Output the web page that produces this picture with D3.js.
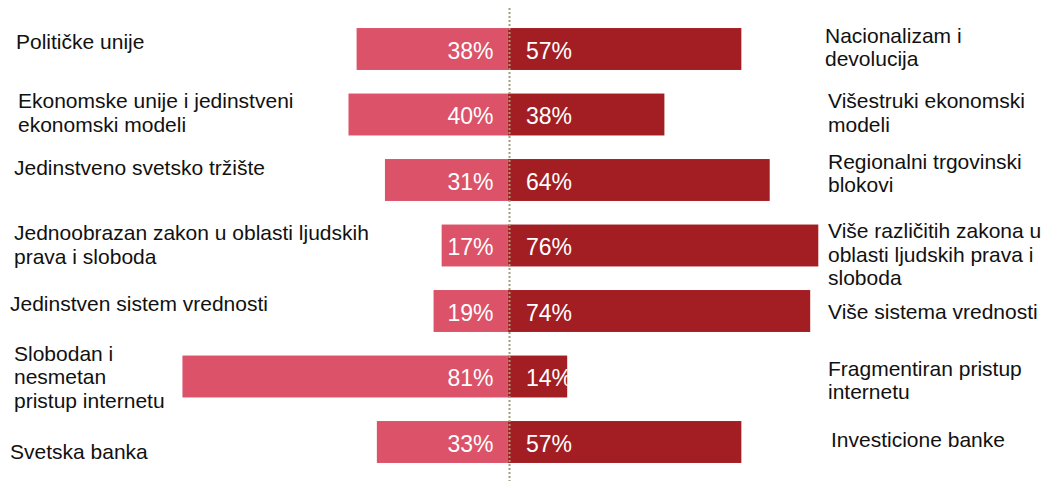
<!DOCTYPE html>
<html>
<head>
<meta charset="utf-8">
<script src="https://cdn.jsdelivr.net/npm/d3@7"></script>
<style>
  html, body { margin: 0; padding: 0; background: #fff; }
  svg { display: block; font-family: "Liberation Sans", Arial, sans-serif; }
</style>
</head>
<body>
<div id="chart"></div>
<script>
const WIDTH = 1046;
const HEIGHT = 481;

// Chart data
const leftLabels = [
  ['Političke unije'],
  ['Ekonomske unije i jedinstveni', 'ekonomski modeli'],
  ['Jedinstveno svetsko tržište'],
  ['Jednoobrazan zakon u oblasti ljudskih', 'prava i sloboda'],
  ['Jedinstven sistem vrednosti'],
  ['Slobodan i', 'nesmetan', 'pristup internetu'],
  ['Svetska banka']
];
const rightLabels = [
  ['Nacionalizam i', 'devolucija'],
  ['Višestruki ekonomski', 'modeli'],
  ['Regionalni trgovinski', 'blokovi'],
  ['Više različitih zakona u', 'oblasti ljudskih prava i', 'sloboda'],
  ['Više sistema vrednosti'],
  ['Fragmentiran pristup', 'internetu'],
  ['Investicione banke']
];
const leftValues = [38, 40, 31, 17, 19, 81, 33];
const rightValues = [57, 38, 64, 76, 74, 14, 57];

// Label placement tweaks (the original text boxes are not aligned exactly)
const LEFT_LABEL_X = [16, 18, 14, 14, 10, 14, 10];
const LEFT_LABEL_DY = [-8, -2, -13, -1, -8, 0, 9];
const RIGHT_LABEL_X = [825, 828, 828, 828, 828, 828, 831];
const RIGHT_LABEL_DY = [-2, -2, -7, 8.5, 0, 3.5, -3];
const LINE_HEIGHT = 23.5;
const SEAM = 3;

const PINK = '#db5269';
const DARK = '#a21e23';

const rows = d3.range(leftValues.length);

const xScale = d3.scaleLinear()
                 .domain([-100, 100])
                 .range([105.5, 915.5]);

const yScale = d3.scaleBand()
                 .domain(rows)
                 .range([16.25, 474.75])
                 .paddingInner(0.36)
                 .paddingOuter(0.18);

const svg = d3.select('#chart')
              .append('svg')
              .attr('width', WIDTH)
              .attr('height', HEIGHT);

// Left (pink) bars
svg.selectAll('rect.left')
   .data(rows)
   .enter()
   .append('rect')
   .attr('class', 'left')
   .attr('x', i => xScale(-leftValues[i]))
   .attr('y', i => yScale(i))
   .attr('width', i => xScale(0) - SEAM - xScale(-leftValues[i]))
   .attr('height', yScale.bandwidth())
   .attr('fill', PINK);

// Right (dark red) bars
svg.selectAll('rect.right')
   .data(rows)
   .enter()
   .append('rect')
   .attr('class', 'right')
   .attr('x', xScale(0) - SEAM)
   .attr('y', i => yScale(i))
   .attr('width', i => xScale(rightValues[i]) - xScale(0) + SEAM)
   .attr('height', yScale.bandwidth())
   .attr('fill', DARK);

// Dotted centre line
svg.append('line')
   .attr('x1', xScale(0) - 1)
   .attr('x2', xScale(0) - 1)
   .attr('y1', 8)
   .attr('y2', HEIGHT)
   .attr('stroke', '#a39c7c')
   .attr('stroke-width', 2)
   .attr('stroke-dasharray', '2,2');

// Percentages inside the bars
const mid = i => yScale(i) + yScale.bandwidth() / 2;

svg.selectAll('text.lval')
   .data(rows)
   .enter()
   .append('text')
   .attr('x', xScale(0) - 17)
   .attr('y', i => mid(i) + 9.5)
   .attr('text-anchor', 'end')
   .attr('fill', '#fff')
   .style('font-size', '23px')
   .text(i => leftValues[i] + '%');

svg.selectAll('text.rval')
   .data(rows)
   .enter()
   .append('text')
   .attr('x', xScale(0) + 15.5)
   .attr('y', i => mid(i) + 9.5)
   .attr('fill', '#fff')
   .style('font-size', '23px')
   .text(i => rightValues[i] + '%');

// Category labels, several lines centred on the bar
function drawLabels(labels, xs, dys) {
  rows.forEach(i => {
    const lines = labels[i];
    const top = mid(i) + dys[i] - (lines.length - 1) * LINE_HEIGHT / 2;
    const t = svg.append('text')
                 .attr('fill', '#111')
                 .style('font-size', '21px');
    lines.forEach((line, k) => {
      t.append('tspan')
       .attr('x', xs[i])
       .attr('y', top + k * LINE_HEIGHT + 7.5)
       .text(line);
    });
  });
}

drawLabels(leftLabels, LEFT_LABEL_X, LEFT_LABEL_DY);
drawLabels(rightLabels, RIGHT_LABEL_X, RIGHT_LABEL_DY);
</script>
</body>
</html>
